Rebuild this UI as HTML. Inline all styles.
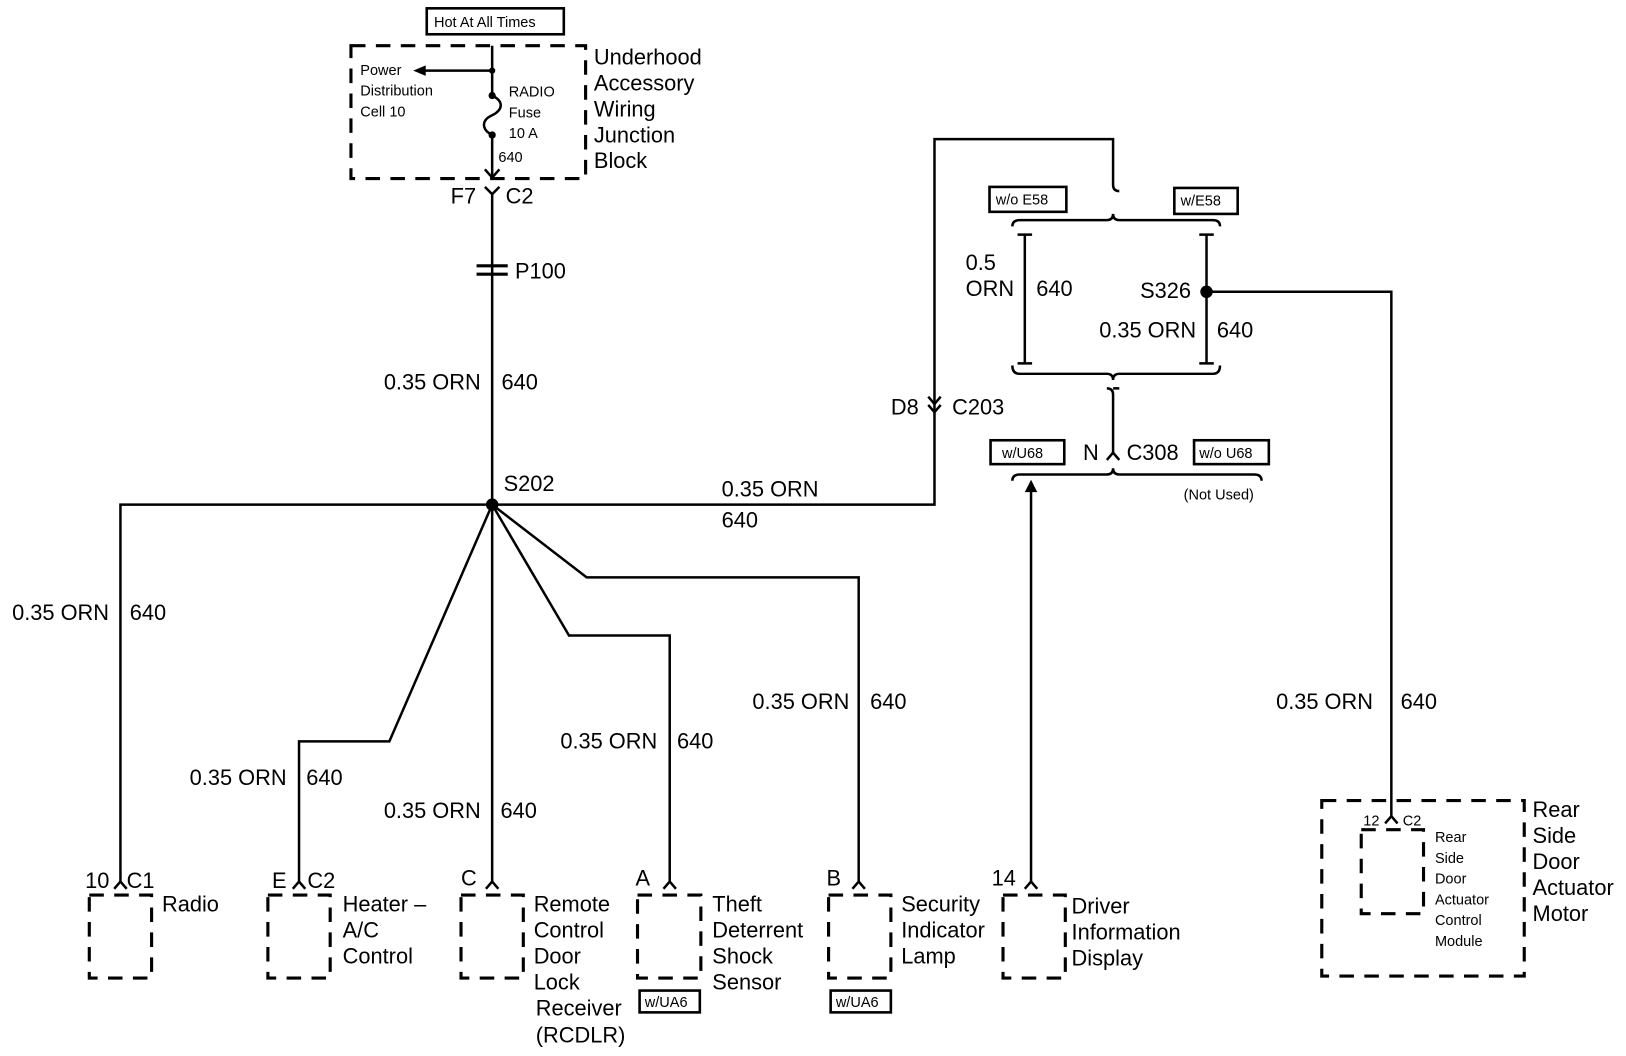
<!DOCTYPE html>
<html><head><meta charset="utf-8"><style>
html,body{margin:0;padding:0;background:#fff}
svg{display:block}
text{font-family:"Liberation Sans",Arial,sans-serif;fill:#000}
.b{font-size:21px}
.s{font-size:14px}
.w{stroke:#000;stroke-width:2.4;fill:none}
.d{stroke:#000;stroke-width:3;fill:none;stroke-dasharray:14 10}
.bx{stroke:#000;stroke-width:2.5;fill:#fff}
</style></head><body>
<svg width="1626" height="1056" viewBox="0 0 1566 1017" xmlns="http://www.w3.org/2000/svg">
<rect class="bx" x="411" y="8" width="132" height="25"/>
<text class="s" x="418" y="26">Hot At All Times</text>
<rect class="d" x="338" y="44" width="226" height="128"/>
<text class="b" x="572" y="62">Underhood</text>
<text class="b" x="572" y="87">Accessory</text>
<text class="b" x="572" y="112">Wiring</text>
<text class="b" x="572" y="137">Junction</text>
<text class="b" x="572" y="162">Block</text>
<path class="w" d="M474 44 V92 M474 130 V172 M474 68 H406"/>
<path d="M398 68 L410 63 L410 73 Z"/>
<circle cx="474" cy="68" r="3"/><circle cx="474" cy="92" r="3.5"/><circle cx="474" cy="130" r="3.5"/>
<path class="w" d="M474 92 C486 98 484 106 474 111 C463 116 464 125 474 130"/>
<path class="w" d="M467 163 L474 171 L481 163"/>
<text class="s" x="347" y="72">Power</text>
<text class="s" x="347" y="92">Distribution</text>
<text class="s" x="347" y="112">Cell 10</text>
<text class="s" x="490" y="93">RADIO</text>
<text class="s" x="490" y="113">Fuse</text>
<text class="s" x="490" y="133">10 A</text>
<text class="s" x="480" y="156">640</text>
<path class="w" d="M467 180 L474 187 L481 180 M474 187 V486"/>
<text class="b" x="434" y="196">F7</text><text class="b" x="487" y="196">C2</text>
<path d="M459 256 H489 M459 264 H489" stroke="#000" stroke-width="3"/>
<text class="b" x="496" y="268">P100</text>
<text class="b" x="463" y="375" text-anchor="end">0.35 ORN</text><text class="b" x="483" y="375">640</text>
<circle cx="474" cy="486" r="6"/>
<text class="b" x="485" y="473">S202</text>
<path class="w" d="M474 486 H116 V850"/>
<path class="w" d="M474 486 L375 714 H288 V850"/>
<path class="w" d="M474 486 V850"/>
<path class="w" d="M474 486 L548 612 H645 V850"/>
<path class="w" d="M474 486 L565 556 H827 V850"/>
<path class="w" d="M474 486 H900 V134 H1072 V178 Q1072 184 1078 184"/>
<text class="b" x="105" y="597" text-anchor="end">0.35 ORN</text><text class="b" x="125" y="597">640</text>
<text class="b" x="276" y="756" text-anchor="end">0.35 ORN</text><text class="b" x="295" y="756">640</text>
<text class="b" x="463" y="788" text-anchor="end">0.35 ORN</text><text class="b" x="482" y="788">640</text>
<text class="b" x="633" y="721" text-anchor="end">0.35 ORN</text><text class="b" x="652" y="721">640</text>
<text class="b" x="818" y="683" text-anchor="end">0.35 ORN</text><text class="b" x="838" y="683">640</text>
<text class="b" x="695" y="478">0.35 ORN</text><text class="b" x="695" y="508">640</text>
<path class="w" d="M894 382 L900 389 L906 382 M894 390 L900 397 L906 390"/>
<text class="b" x="858" y="399">D8</text><text class="b" x="917" y="399">C203</text>
<g class="w">
<path d="M110 856 L116 849 L122 856"/><path d="M282 856 L288 849 L294 856"/><path d="M468 856 L474 849 L480 856"/>
<path d="M639 856 L645 849 L651 856"/><path d="M821 856 L827 849 L833 856"/><path d="M987 856 L993 849 L999 856"/>
</g>
<text class="b" x="82" y="855">10</text><text class="b" x="122" y="855">C1</text>
<text class="b" x="262" y="855">E</text><text class="b" x="296" y="855">C2</text>
<text class="b" x="444" y="853">C</text>
<text class="b" x="612" y="853">A</text>
<text class="b" x="796" y="853">B</text>
<text class="b" x="955" y="853">14</text>
<rect class="d" x="86" y="862" width="60" height="80" stroke-dasharray="12 10"/>
<rect class="d" x="258" y="862" width="60" height="80" stroke-dasharray="12 10"/>
<rect class="d" x="444" y="862" width="60" height="80" stroke-dasharray="12 10"/>
<rect class="d" x="614" y="862" width="61" height="80" stroke-dasharray="12 10"/>
<rect class="d" x="798" y="862" width="60" height="80" stroke-dasharray="12 10"/>
<rect class="d" x="966" y="862" width="60" height="80" stroke-dasharray="12 10"/>
<text class="b" x="156" y="878">Radio</text>
<text class="b" x="330" y="878">Heater –</text><text class="b" x="330" y="903">A/C</text><text class="b" x="330" y="928">Control</text>
<text class="b" x="514" y="878">Remote</text><text class="b" x="514" y="903">Control</text><text class="b" x="514" y="928">Door</text><text class="b" x="514" y="953">Lock</text><text class="b" x="516" y="978">Receiver</text><text class="b" x="516" y="1004">(RCDLR)</text>
<text class="b" x="686" y="878">Theft</text><text class="b" x="686" y="903">Deterrent</text><text class="b" x="686" y="928">Shock</text><text class="b" x="686" y="953">Sensor</text>
<text class="b" x="868" y="878">Security</text><text class="b" x="868" y="903">Indicator</text><text class="b" x="868" y="928">Lamp</text>
<text class="b" x="1032" y="880">Driver</text><text class="b" x="1032" y="905">Information</text><text class="b" x="1032" y="930">Display</text>
<rect class="bx" x="616" y="954" width="58" height="21"/><text class="s" x="621" y="970">w/UA6</text>
<rect class="bx" x="800" y="954" width="58" height="21"/><text class="s" x="805" y="970">w/UA6</text>
<rect class="bx" x="953" y="180" width="74" height="24"/><text class="s" x="959" y="197">w/o E58</text>
<rect class="bx" x="1131" y="181" width="61" height="25"/><text class="s" x="1137" y="198">w/E58</text>
<path class="w" d="M975 218 Q975 212 982 212 H1066 Q1072 212 1072 206 Q1072 212 1078 212 H1168 Q1175 212 1175 218"/>
<path class="w" d="M987 226 V350 M980 226 H994 M980 350 H994"/>
<path class="w" d="M1162 226 V350 M1155 226 H1169 M1155 350 H1169"/>
<path class="w" d="M975 352 Q975 360 982 360 H1066 Q1072 360 1072 366 Q1072 360 1078 360 H1168 Q1175 360 1175 352"/>
<path class="w" d="M1066 374 Q1072 374 1072 380 V436 M1072 374 H1078"/>
<path class="w" d="M1066 443 L1072 436 L1078 443"/>
<circle cx="1162" cy="281" r="6"/>
<text class="b" x="930" y="260">0.5</text><text class="b" x="930" y="285">ORN</text><text class="b" x="998" y="285">640</text>
<text class="b" x="1098" y="287">S326</text>
<text class="b" x="1152" y="325" text-anchor="end">0.35 ORN</text><text class="b" x="1172" y="325">640</text>
<rect class="bx" x="954" y="424" width="71" height="23"/><text class="s" x="965" y="441">w/U68</text>
<text class="b" x="1043" y="443">N</text><text class="b" x="1085" y="443">C308</text>
<rect class="bx" x="1150" y="424" width="72" height="23"/><text class="s" x="1155" y="441">w/o U68</text>
<path class="w" d="M975 463 Q975 457 982 457 H1066 Q1072 457 1072 451 Q1072 457 1078 457 H1208 Q1215 457 1215 463"/>
<text class="s" x="1140" y="481">(Not Used)</text>
<path class="w" d="M993 850 V470"/>
<path d="M993 462 L987 474 L999 474 Z"/>
<path class="w" d="M1162 281 H1340 V787"/>
<path class="w" d="M1334 793 L1340 786 L1346 793"/>
<text class="b" x="1229" y="683">0.35 ORN</text><text class="b" x="1349" y="683">640</text>
<rect class="d" x="1273" y="771" width="195" height="169"/>
<rect class="d" x="1311" y="799" width="60" height="81" stroke-dasharray="12 10"/>
<text class="s" x="1313" y="795">12</text><text class="s" x="1351" y="795">C2</text>
<text class="s" x="1382" y="811">Rear</text><text class="s" x="1382" y="831">Side</text><text class="s" x="1382" y="851">Door</text><text class="s" x="1382" y="871">Actuator</text><text class="s" x="1382" y="891">Control</text><text class="s" x="1382" y="911">Module</text>
<text class="b" x="1476" y="787">Rear</text><text class="b" x="1476" y="812">Side</text><text class="b" x="1476" y="837">Door</text><text class="b" x="1476" y="862">Actuator</text><text class="b" x="1476" y="887">Motor</text>
</svg>
</body></html>
